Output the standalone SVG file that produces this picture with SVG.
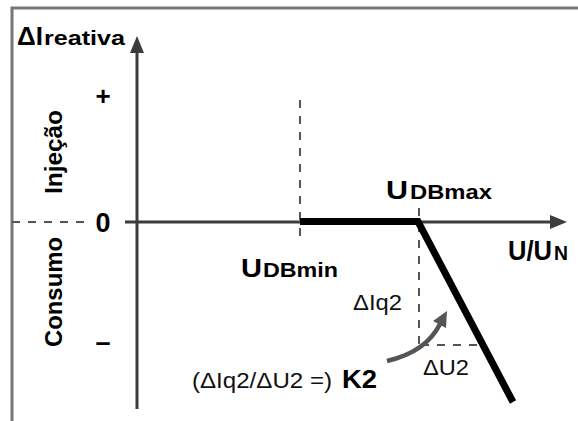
<svg xmlns="http://www.w3.org/2000/svg" width="578" height="421" viewBox="0 0 578 421">
<defs>
<style>
.b{font-family:"Liberation Sans",Arial,sans-serif;font-weight:bold;fill:#000}
.r{font-family:"Liberation Sans",Arial,sans-serif;font-weight:normal;fill:#111}
.dash{stroke:#555;stroke-width:2;stroke-dasharray:8 8;fill:none}
.axis{stroke:#3c3c3c;stroke-width:3;fill:none}
</style>
</defs>
<rect width="578" height="421" fill="#fff"/>
<g id="frame">
<path d="M12,421 V8 H578" stroke="#777" stroke-width="3" fill="none"/>
</g>
<g id="connectors">
<path class="dash" d="M12,222 H90"/>
<path class="axis" d="M137,409 V50"/>
<path d="M137,36 L144,53 L130,53 Z" fill="#3c3c3c"/>
<path class="axis" d="M125,222 H552"/>
<path d="M567,222 L550,215 L550,229 Z" fill="#3c3c3c"/>
<path class="dash" d="M300,100 V242"/>
<path class="dash" d="M419,208 V345 M421,345 H478" stroke-dasharray="9 8"/>
<path d="M300,221.5 H418 L513,402" stroke="#000" stroke-width="7" fill="none" stroke-linejoin="miter"/>
<path d="M387,361 Q426,352 440,324" stroke="#555" stroke-width="4.5" fill="none"/>
<path d="M447,311 L446,328 L433,321 Z" fill="#555"/>
</g>
<g id="ylabel">
<text class="b" x="17" y="45" font-size="25" textLength="26" lengthAdjust="spacingAndGlyphs">ΔI</text>
<text class="b" x="44" y="45" font-size="21" textLength="81" lengthAdjust="spacingAndGlyphs">reativa</text>
</g>
<g id="ticks">
<text class="b" x="103" y="105" font-size="26" text-anchor="middle">+</text>
<text class="b" x="103" y="232" font-size="27" text-anchor="middle">0</text>
<text class="b" x="103" y="351" font-size="27" text-anchor="middle">–</text>
</g>
<g id="injecao">
<text class="b" transform="translate(62,152) rotate(-90)" font-size="24" text-anchor="middle" textLength="84" lengthAdjust="spacingAndGlyphs">Injeção</text>
</g>
<g id="consumo">
<text class="b" transform="translate(62,292) rotate(-90)" font-size="24" text-anchor="middle" textLength="110" lengthAdjust="spacingAndGlyphs">Consumo</text>
</g>
<g id="udbmin">
<text class="b" x="241" y="277" font-size="26" textLength="21" lengthAdjust="spacingAndGlyphs">U</text>
<text class="b" x="263" y="277" font-size="20" textLength="75" lengthAdjust="spacingAndGlyphs">DBmin</text>
</g>
<g id="udbmax">
<text class="b" x="386" y="199" font-size="26" textLength="22" lengthAdjust="spacingAndGlyphs">U</text>
<text class="b" x="410" y="199" font-size="20" textLength="82" lengthAdjust="spacingAndGlyphs">DBmax</text>
</g>
<g id="uun">
<text class="b" x="508" y="260" font-size="27" textLength="44" lengthAdjust="spacingAndGlyphs">U/U</text>
<text class="b" x="554" y="260" font-size="20" textLength="14" lengthAdjust="spacingAndGlyphs">N</text>
</g>
<g id="deltas">
<text class="r" x="353" y="310" font-size="22" textLength="49" lengthAdjust="spacingAndGlyphs">ΔIq2</text>
<text class="r" x="423" y="375" font-size="22" textLength="46" lengthAdjust="spacingAndGlyphs">ΔU2</text>
</g>
<g id="k2">
<text class="r" x="192" y="388" font-size="22" textLength="140" lengthAdjust="spacingAndGlyphs">(ΔIq2/ΔU2 =)</text>
<text class="b" x="342" y="388" font-size="25" textLength="35" lengthAdjust="spacingAndGlyphs">K2</text>
</g>
</svg>
